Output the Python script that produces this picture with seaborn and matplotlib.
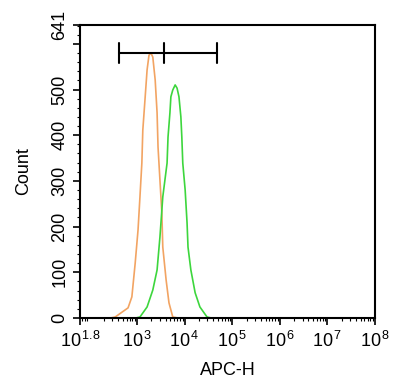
import matplotlib
matplotlib.use("Agg")
import matplotlib.pyplot as plt
import numpy as np
import pandas as pd
import seaborn as sns
from matplotlib.ticker import FixedLocator, LogLocator, NullFormatter

# histogram curves, x given as log10 of APC-H
orange_log = [2.45, 2.54, 2.81, 2.89, 2.96, 3.02, 3.06, 3.10, 3.12, 3.17, 3.21, 3.25,
              3.29, 3.33, 3.38, 3.42, 3.44, 3.48, 3.52, 3.54, 3.61, 3.67, 3.75, 3.85]
orange_count = [0, 2, 22, 46, 120, 193, 265, 339, 411, 484, 543, 575,
                580, 571, 521, 449, 374, 302, 230, 155, 83, 33, 2, 0]

green_log = [2.98, 3.06, 3.21, 3.33, 3.42, 3.48, 3.54, 3.63, 3.65, 3.69, 3.71, 3.75,
             3.80, 3.84, 3.88, 3.92, 3.94, 3.96, 4.01, 4.05, 4.07, 4.13, 4.22, 4.32,
             4.47, 4.55]
green_count = [0, 2, 24, 61, 105, 177, 265, 339, 396, 449, 484, 499,
               510, 503, 484, 440, 396, 339, 280, 208, 155, 105, 55, 24,
               2, 0]

# gate marker
gate_log = [2.62, 3.565, 4.68]
gate_y = 580

x_ticks = [1.8, 3, 4, 5, 6, 7, 8]
y_ticks = [0, 100, 200, 300, 400, 500, 600, 641]
y_labels = ["0", "100", "200", "300", "400", "500", "", "641"]

sns.set_style("ticks")
plt.rcParams["font.family"] = ["Liberation Sans", "DejaVu Sans"]
plt.rcParams["mathtext.fontset"] = "custom"
plt.rcParams["mathtext.rm"] = "Liberation Sans"
plt.rcParams["mathtext.it"] = "Liberation Sans"
for k in ["text.color", "axes.labelcolor", "xtick.color", "ytick.color"]:
    plt.rcParams[k] = "black"

df = pd.concat([
    pd.DataFrame({"APC-H": 10 ** np.array(orange_log), "Count": orange_count, "s": "ctrl"}),
    pd.DataFrame({"APC-H": 10 ** np.array(green_log), "Count": green_count, "s": "stain"}),
])

fig = plt.figure(figsize=(4, 3.92), dpi=100)
ax = fig.add_axes([0.2, 0.189, 0.7375, 0.747])

sns.lineplot(data=df, x="APC-H", y="Count", hue="s", sort=False,
             palette={"ctrl": "#F2A463", "stain": "#3DD63D"},
             linewidth=1.2, legend=False, ax=ax)

ax.set_xscale("log")
ax.set_xlim(10 ** 1.8, 10 ** 8)
ax.set_ylim(0, 641)

# gate bar
gx = 10 ** np.array(gate_log)
ax.plot([gx[0], gx[-1]], [gate_y, gate_y], color="black", lw=1.5)
for v in gx:
    ax.plot([v, v], [gate_y - 22, gate_y + 22], color="black", lw=1.5)

ax.xaxis.set_major_locator(FixedLocator([10 ** t for t in x_ticks]))
ax.set_xticklabels(["$10^{\\,%g}$" % t for t in x_ticks])
ax.xaxis.set_minor_locator(LogLocator(base=10, subs=np.arange(2, 10), numticks=20))
ax.xaxis.set_minor_formatter(NullFormatter())

ax.set_yticks(y_ticks)
ax.set_yticklabels(y_labels, rotation=90, va="center")
ax.yaxis.set_minor_locator(FixedLocator(np.arange(0, 641, 20)))

ax.tick_params(which="major", length=5, width=1.2, labelsize=13, color="black")
ax.tick_params(which="minor", length=2.5, width=0.8, color="black")
ax.tick_params(axis="x", pad=4)
for s in ax.spines.values():
    s.set_linewidth(1.5)
    s.set_color("black")

ax.set_xlabel("APC-H", fontsize=13, labelpad=8)
ax.set_ylabel("Count", fontsize=13, labelpad=14)

fig.savefig("out.png", dpi=100)
